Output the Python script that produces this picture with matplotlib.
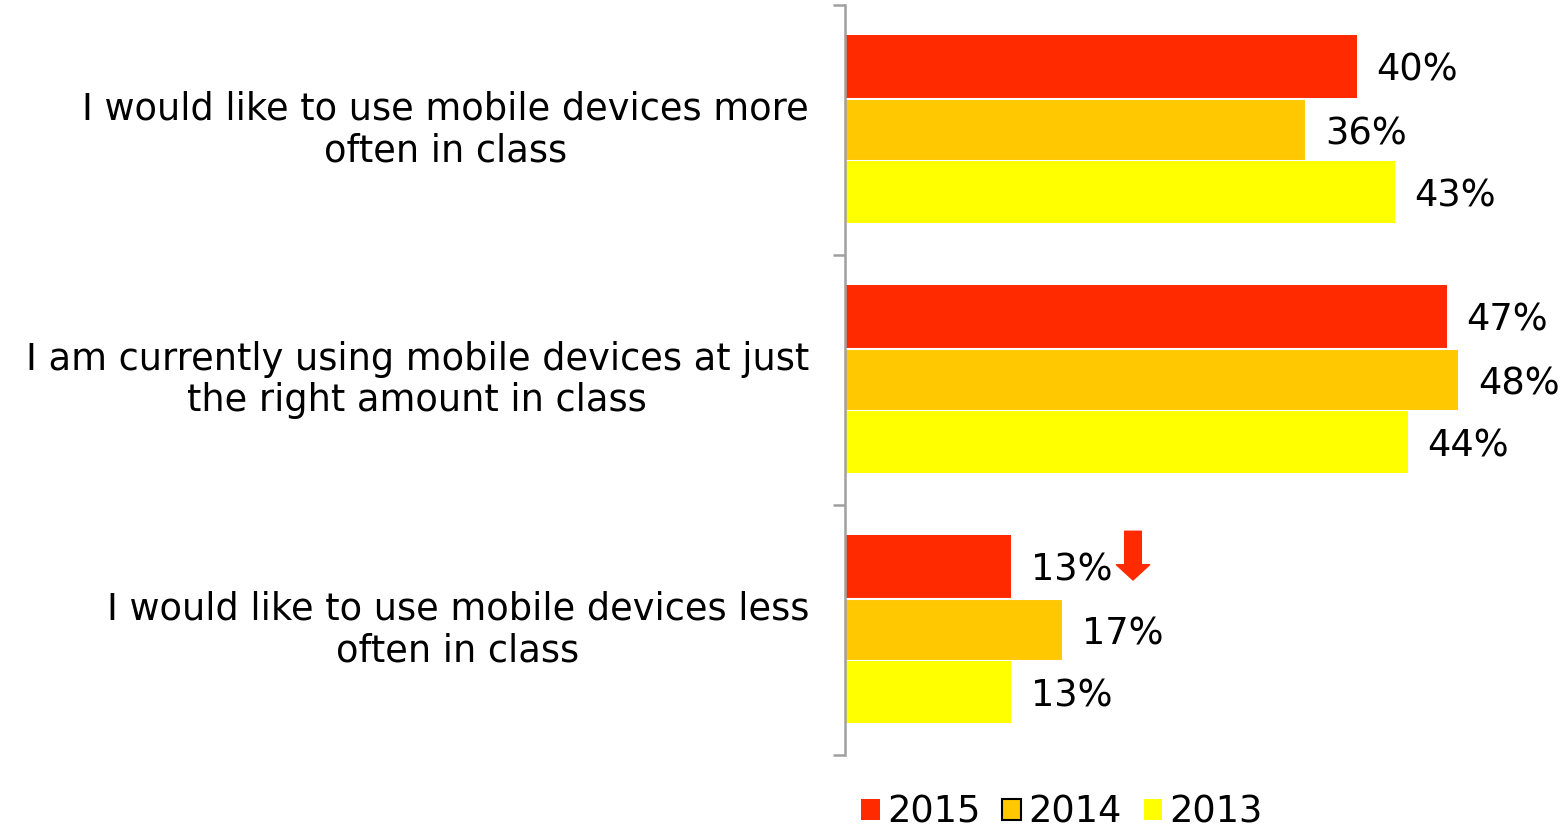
import matplotlib.pyplot as plt
import numpy as np

# statements shown on the y axis, top to bottom
categories = [
    "I would like to use mobile devices more\noften in class",
    "I am currently using mobile devices at just\nthe right amount in class",
    "I would like to use mobile devices less\noften in class",
]
years = ["2015", "2014", "2013"]
values_2015 = [40, 47, 13]
values_2014 = [36, 48, 17]
values_2013 = [43, 44, 13]

colors = ["#FF2A00", "#FFC800", "#FFFF00"]

fig = plt.figure(figsize=(15.65, 8.31), dpi=100)
ax = fig.add_axes([845 / 1565, 76 / 831, 720 / 1565, 750 / 831])

y = np.arange(len(categories))
h = 0.25
series = [values_2015, values_2014, values_2013]
offsets = [-0.255, 0.0, 0.247]
for vals, off, col, yr in zip(series, offsets, colors, years):
    if yr == "2014":
        ax.barh(y + off, vals, height=h, color=col, edgecolor="white",
                linewidth=1.5, label=yr)
    else:
        ax.barh(y + off, vals, height=h, color=col, linewidth=0, label=yr)
    for yy, v in zip(y + off, vals):
        ax.text(v + 1.5, yy, f"{v}%", va="center_baseline", ha="left",
                fontsize=26.5, clip_on=False)

ax.set_xlim(0, 720 / 12.8)
ax.set_ylim(2.5, -0.5)

for s in ["top", "right", "bottom"]:
    ax.spines[s].set_visible(False)
ax.spines["left"].set_color("#A0A0A0")
ax.spines["left"].set_linewidth(1.8)
ax.set_xticks([])
ax.set_yticks([-0.5, 0.5, 1.5, 2.5])
ax.set_yticklabels([])
ax.tick_params(axis="y", length=9, width=1.8, color="#A0A0A0", direction="out")

# category labels, right aligned left of the axis
for yy, lab in zip(y, categories):
    ax.annotate(lab, xy=(0, yy), xycoords=("axes fraction", "data"),
                xytext=(-26, 0), textcoords="offset points",
                ha="right", va="center", fontsize=26.5,
                multialignment="center", linespacing=1.15)

# red down arrow next to the 2015 "less often" value
ax.annotate("", xy=(22.5, 1.8), xytext=(22.5, 1.605),
            arrowprops=dict(arrowstyle="simple,head_width=24,head_length=11,tail_width=12",
                            mutation_scale=1, color="#FF2A00", shrinkA=0, shrinkB=0))

handles = [plt.Rectangle((0, 0), 1, 1, facecolor=colors[0], edgecolor="none"),
           plt.Rectangle((0, 0), 1, 1, facecolor=colors[1], edgecolor="black", linewidth=1.5),
           plt.Rectangle((0, 0), 1, 1, facecolor=colors[2], edgecolor="none")]
fig.legend(handles, years, loc="center", bbox_to_anchor=(1062 / 1565, 1 - 812 / 831),
           ncol=3, frameon=False, fontsize=26.5, handlelength=0.5, handleheight=0.5,
           handletextpad=0.2, columnspacing=0.6, borderpad=0)

fig.savefig("out.png", dpi=100)
